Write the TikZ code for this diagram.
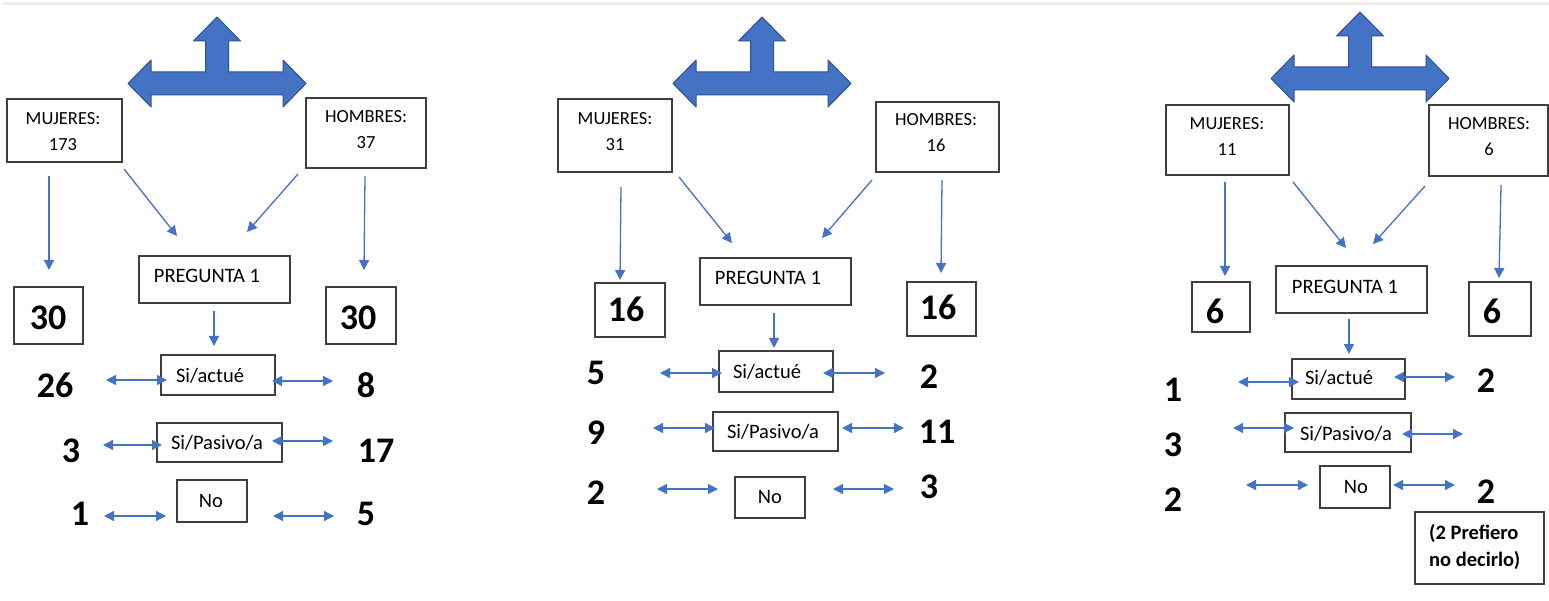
\documentclass[tikz,border=0pt]{standalone}
\usepackage{fontspec}
\setmainfont{Carlito}
\usetikzlibrary{arrows.meta}
\definecolor{azul}{HTML}{4472C4}
\definecolor{azulosc}{HTML}{2F528F}
\definecolor{borde}{HTML}{3F3F3F}
\tikzset{
  box/.style={draw=borde, line width=1.3pt, inner sep=0pt},
  lbl/.style={inner sep=0pt, font=\fontsize{20.5}{24}\selectfont, text height=13.2pt, text depth=0pt},
  hdr/.style={inner sep=0pt, align=center, font=\fontsize{18.5}{26}\selectfont},
  num/.style={inner sep=0pt, font=\fontsize{36}{40}\selectfont\bfseries, text height=22.8pt, text depth=0pt},
  note/.style={inner sep=0pt, align=left, font=\fontsize{20.5}{27}\selectfont\bfseries},
  conn/.style={draw=azul, line width=1.3pt, -{Triangle[length=10pt,width=10pt]}},
  dconn/.style={draw=azul, line width=1.3pt, {Triangle[length=10pt,width=10pt]}-{Triangle[length=10pt,width=10pt]}},
  tarrow/.pic={\filldraw[fill=azul, draw=azulosc, line width=1pt, line join=round]
    (-89,0) -- (-66,-23.5) -- (-66,-11.5) -- (-11.5,-11.5) -- (-11.5,-42.5) -- (-23.5,-42.5)
    -- (0,-66.5) -- (23.5,-42.5) -- (11.5,-42.5) -- (11.5,-11.5) -- (66,-11.5) -- (66,-23.5)
    -- (89,0) -- (66,23.5) -- (66,11.5) -- (-66,11.5) -- (-66,23.5) -- cycle;}
}
\begin{document}
\begin{tikzpicture}[x=1pt,y=-1pt]
\fill[white] (0,0) rectangle (1549,601);
\useasboundingbox (0,0) rectangle (1549,601);
\draw[gray!15, line width=2.5pt] (3,3.5) -- (1549,3.5);

% block arrows
\pic (ta1) at (217,83.5) {tarrow};
\pic (ta2) at (762,83.5) {tarrow};
\pic (ta3) at (1360,78.5) {tarrow};

% ===== panel 1 =====
\node[box, minimum width=115pt, minimum height=63pt] (m1) at (64.5,130.5) {};
\node[hdr] (m1t) at (63,132) {MUJERES:\\173};
\node[box, minimum width=120pt, minimum height=70pt] (h1) at (366,133) {};
\node[hdr] (h1t) at (366,130) {HOMBRES:\\37};
\node[box, minimum width=151pt, minimum height=47pt] (q1) at (214.5,279.5) {};
\node[lbl] (q1t) at (207,276) {PREGUNTA 1};
\node[box, minimum width=69pt, minimum height=57pt] (l1) at (48.5,315.5) {};
\node[num] (l1t) at (48,318) {30};
\node[box, minimum width=70pt, minimum height=57pt] (r1) at (361,315.5) {};
\node[num] (r1t) at (358,318) {30};
\node[box, minimum width=114pt, minimum height=40pt] (a1) at (218,375) {};
\node[lbl] (a1t) at (210,376) {Si/actué};
\node[box, minimum width=125pt, minimum height=39pt] (s1) at (219.5,442.5) {};
\node[lbl] (s1t) at (217,443) {Si/Pasivo/a};
\node[box, minimum width=70pt, minimum height=42pt] (n1) at (212,501) {};
\node[lbl] (n1t) at (211,501) {No};
\node[num] (v1a) at (55,386) {26};
\node[num] (v1b) at (366,386) {8};
\node[num] (v1c) at (71,451) {3};
\node[num] (v1d) at (376,451) {17};
\node[num] (v1e) at (80,514) {1};
\node[num] (v1f) at (366,514) {5};

% ===== panel 2 =====
\node[box, minimum width=114pt, minimum height=73pt] (m2) at (615,135.5) {};
\node[hdr] (m2t) at (615,132) {MUJERES:\\31};
\node[box, minimum width=123pt, minimum height=70pt] (h2) at (937.5,137) {};
\node[hdr] (h2t) at (936,133) {HOMBRES:\\16};
\node[box, minimum width=151pt, minimum height=47pt] (q2) at (775.5,281.5) {};
\node[lbl] (q2t) at (768,278) {PREGUNTA 1};
\node[box, minimum width=70pt, minimum height=54pt] (l2) at (630,310) {};
\node[num] (l2t) at (626,310) {16};
\node[box, minimum width=69pt, minimum height=54pt] (r2) at (941.5,309) {};
\node[num] (r2t) at (938,308) {16};
\node[box, minimum width=114pt, minimum height=41pt] (a2) at (776,371.5) {};
\node[lbl] (a2t) at (767,372) {Si/actué};
\node[box, minimum width=125pt, minimum height=39pt] (s2) at (775.5,431.5) {};
\node[lbl] (s2t) at (773,432) {Si/Pasivo/a};
\node[box, minimum width=70pt, minimum height=41pt] (n2) at (770,497.5) {};
\node[lbl] (n2t) at (770,497) {No};
\node[num] (v2a) at (596,373) {5};
\node[num] (v2b) at (929,377) {2};
\node[num] (v2c) at (596,433) {9};
\node[num] (v2d) at (937,432) {11};
\node[num] (v2e) at (596,493) {2};
\node[num] (v2f) at (929,487) {3};

% ===== panel 3 =====
\node[box, minimum width=123pt, minimum height=70pt] (m3) at (1227.5,140) {};
\node[hdr] (m3t) at (1227,136.5) {MUJERES:\\11};
\node[box, minimum width=119pt, minimum height=71pt] (h3) at (1488.5,140.5) {};
\node[hdr] (h3t) at (1489,136.5) {HOMBRES:\\6};
\node[box, minimum width=151pt, minimum height=47pt] (q3) at (1351.5,289.5) {};
\node[lbl] (q3t) at (1345,287) {PREGUNTA 1};
\node[box, minimum width=58pt, minimum height=50pt] (l3) at (1221,307) {};
\node[num] (l3t) at (1215,312) {6};
\node[box, minimum width=62pt, minimum height=54pt] (r3) at (1500,309) {};
\node[num] (r3t) at (1492,312) {6};
\node[box, minimum width=113pt, minimum height=40pt] (a3) at (1348.5,379) {};
\node[lbl] (a3t) at (1339,378) {Si/actué};
\node[box, minimum width=126pt, minimum height=39pt] (s3) at (1348,432.5) {};
\node[lbl] (s3t) at (1346,434) {Si/Pasivo/a};
\node[box, minimum width=70pt, minimum height=42pt] (n3) at (1355,487) {};
\node[lbl] (n3t) at (1356,487) {No};
\node[num] (v3a) at (1173,390) {1};
\node[num] (v3b) at (1486,381) {2};
\node[num] (v3c) at (1173,445) {3};
\node[num] (v3e) at (1173,500) {2};
\node[num] (v3f) at (1486,492) {2};
\node[box, minimum width=129pt, minimum height=72pt] (nb) at (1479.5,548) {};
\node[note, anchor=west] (nbt) at (1429,546.5) {(2 Prefiero\\no decirlo)};

% single-headed connectors
\foreach \n/\xa/\ya/\xb/\yb in {
  c1a/49/176/49/270, c1b/124/169/177/236, c1c/298/174/247/232, c1d/365/176/364/270, c1e/214/311/214/346,
  c2a/621/187/620/280, c2b/679/177/732/243, c2c/872/180/822/238, c2d/942/180/941/273, c2e/774/313/774/348,
  c3a/1225/182/1225/276, c3b/1293/182/1346/248, c3c/1425/186/1373/244, c3d/1501/185/1499/278, c3e/1349/319/1349/354}
{
  \coordinate (\n-s) at (\xa,\ya);
  \coordinate (\n-e) at (\xb,\yb);
  \draw[conn] (\n-s) -- (\n-e);
}

% double-headed connectors
\foreach \n/\xa/\ya/\xb/\yb in {
  d1a/106/380/167/380, d1b/272/381/333/381, d1c/103/445/162/445, d1d/272/441/333/441, d1e/104/516/166/516, d1f/273/516/334/516,
  d2a/660/373/722/373, d2b/823/373/885/373, d2c/653/428/715/428, d2d/842/428/904/428, d2e/657/489/718/489, d2f/833/489/894/489,
  d3a/1238/382/1299/382, d3b/1394/377/1455/377, d3c/1233/428/1294/428, d3d/1402/434/1463/434, d3e/1246/485/1308/485, d3f/1393/485/1455/485}
{
  \coordinate (\n-s) at (\xa,\ya);
  \coordinate (\n-e) at (\xb,\yb);
  \draw[dconn] (\n-s) -- (\n-e);
}
\end{tikzpicture}
\end{document}
